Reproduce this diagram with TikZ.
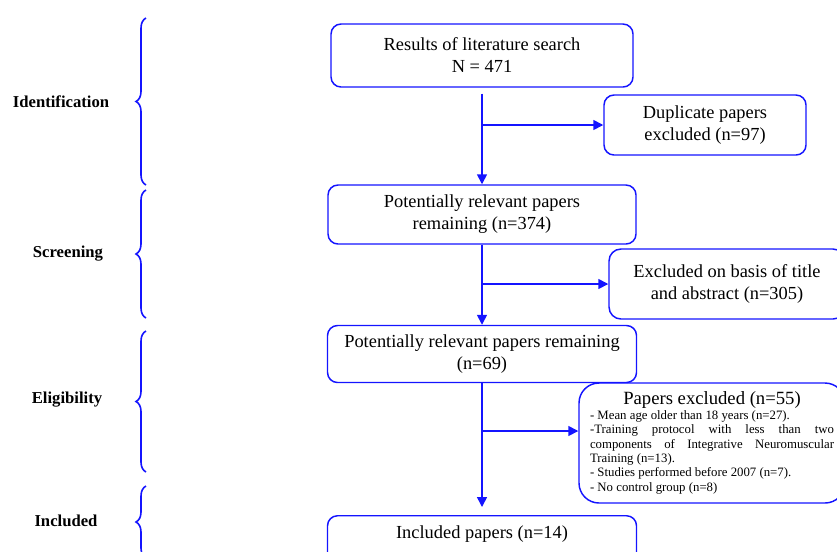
\documentclass[tikz,border=0pt]{standalone}
\usepackage{fontspec}
\setmainfont{Liberation Serif}
\usepackage{tikz}
\usetikzlibrary{calc}
\usetikzlibrary{arrows.meta}
\usetikzlibrary{decorations.pathreplacing}
\definecolor{flowblue}{RGB}{20,20,255}

\tikzset{
 box/.style={draw=flowblue, line width=1.1pt, rounded corners=7.5pt, align=center, font=\fontsize{13.8}{16.5}\selectfont},
 flow/.style={draw=flowblue, line width=1.2pt, -{Triangle[length=7.5pt,width=7.5pt]}},
 phase/.style={font=\fontsize{12.5}{14}\selectfont\bfseries},
 bracket/.style={draw=flowblue, line width=1.2pt, decorate, decoration={brace, amplitude=7.5pt}}
}

\begin{document}
\begin{tikzpicture} [x=.75pt, y=-.75pt]
\useasboundingbox (0,0) rectangle (837,551);

\node[box, minimum width=226.5pt, minimum height=47.25pt] (res) at (482,55.5) {Results of literature search\\N = 471};
\node[box, minimum width=151.5pt, minimum height=45pt] (dup) at (705,125) {Duplicate papers\\excluded (n=97)};
\node[box, minimum width=231pt, minimum height=44.25pt] (rel1) at (482,214.5) {Potentially relevant papers\\remaining (n=374)};
\node[box, minimum width=177pt, minimum height=52.5pt, rounded corners=9pt] (tit) at (727,284) {Excluded on basis of title\\and abstract (n=305)};
\node[box, minimum width=231.75pt, minimum height=42.75pt] (rel2) at (482,354) {Potentially relevant papers remaining\\(n=69)};
\node[box, minimum width=199.5pt, minimum height=90pt, rounded corners=15pt, text width=183pt, align=justify, font=\fontsize{9.6}{10.8}\selectfont] (exc) at (712,443)
{\hyphenpenalty=10000\relax
{\centering\fontsize{14}{15}\selectfont Papers excluded (n=55)\par}
- Mean age older than 18 years (n=27).\par
-Training protocol with less than two components of Integrative Neuromuscular Training (n=13).\par
- Studies performed before 2007 (n=7).\par
- No control group (n=8)\par};
\node[box, anchor=north, minimum width=231.75pt, text height=14pt, text depth=30pt] (inc) at (482,515) {Included papers (n=14)};

\draw[flow, shorten <=4.5pt] (res.south) -- (rel1.north);
\draw[flow] (res.south |- dup.west) -- (dup.west);
\draw[flow] (rel1.south) -- (rel2.north);
\draw[flow] (rel1.south |- tit.west) -- (tit.west);
\draw[flow, shorten >=6pt] (rel2.south) -- (inc.north);
\draw[flow] ([yshift=9pt]rel2.south |- exc.west) -- ([yshift=9pt]exc.west);

\node[phase] (ident) at (61,102) {Identification};
\node[phase] (scr) at (68,254) {Screening};
\node[phase] (elig) at (67,400) {Eligibility};
\node[phase] (incl) at (66,521) {Included};

\draw[bracket] (146,185) -- (146,18);
\draw[bracket] (146,318) -- (146,190);
\draw[bracket] (146,472) -- (146,331);
\draw[bracket] (146,558) -- (146,486);

\end{tikzpicture}
\end{document}
